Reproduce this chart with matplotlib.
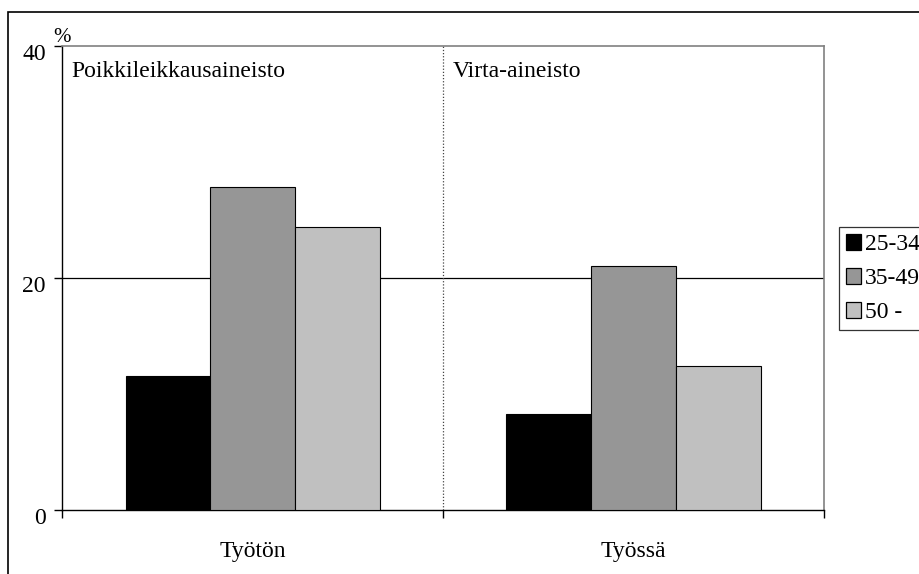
import matplotlib.pyplot as plt
from matplotlib.patches import Rectangle, Patch
from matplotlib.transforms import ScaledTranslation
import numpy as np

plt.rcParams['font.family'] = ['Liberation Serif', 'DejaVu Serif']

categories = ['Työtön', 'Työssä']
age_groups = ['25-34', '35-49', '50 -']
values = {
    '25-34': [11.5, 8.2],
    '35-49': [27.8, 21.0],
    '50 -': [24.4, 12.4],
}
colors = ['#000000', '#969696', '#c0c0c0']
panel_titles = ['Poikkileikkausaineisto', 'Virta-aineisto']

fs = 17

fig = plt.figure(figsize=(9.2, 5.74), dpi=100)
ax = fig.add_axes([62.5 / 920, 64.5 / 574, 761.5 / 920, 463.5 / 574])

x = np.arange(len(categories))
w = 0.223
for i, grp in enumerate(age_groups):
    ax.bar(x + (i - 1) * w, values[grp], width=w, color=colors[i],
           edgecolor='black', linewidth=0.8, zorder=3)

ax.set_xlim(-0.5, 1.5)
ax.set_ylim(0, 40)
ax.set_yticks([0, 20, 40])
ax.set_xticks(x)
ax.set_xticklabels(categories)
ax.set_xticks([-0.5, 0.5, 1.5], minor=True)
ax.tick_params(axis='x', which='major', length=0, pad=23, labelsize=fs)
ax.tick_params(axis='x', which='minor', length=6, direction='out', width=1)
ax.tick_params(axis='y', length=6, direction='out', width=1, labelsize=fs, pad=6)
# y labels sit a bit below their ticks in the original
shift = ScaledTranslation(0, -0.06, fig.dpi_scale_trans)
for lab in ax.get_yticklabels():
    lab.set_transform(lab.get_transform() + shift)

ax.axhline(20, color='black', linewidth=0.9, zorder=1)
ax.axvline(0.5, color='#444444', linewidth=0.9, linestyle=(0, (1, 1.5)), zorder=1)

for s in ['left', 'bottom']:
    ax.spines[s].set_color('black')
    ax.spines[s].set_linewidth(1)
for s in ['top', 'right']:
    ax.spines[s].set_color('#808080')
    ax.spines[s].set_linewidth(1.2)

ax.text(-0.477, 38.7, panel_titles[0], fontsize=fs, va='top', ha='left')
ax.text(0.524, 38.7, panel_titles[1], fontsize=fs, va='top', ha='left')
ax.text(0.0, 0.997, '%', transform=ax.transAxes, fontsize=15, ha='center', va='bottom')

handles = [Patch(facecolor=c, edgecolor='black', linewidth=0.9) for c in colors]
leg = fig.legend(handles, age_groups, loc='upper left',
                 bbox_to_anchor=(839 / 920, 1 - 227 / 574), fontsize=fs,
                 frameon=True, fancybox=False, edgecolor='black',
                 handlelength=0.64, handleheight=0.64, handletextpad=0.17,
                 labelspacing=0.55, borderpad=0.3, borderaxespad=0)
leg.get_frame().set_linewidth(0.9)

fig.patches.append(Rectangle((8 / 920, -0.1), 1.0, 1 - 12 / 574 + 0.1,
                             transform=fig.transFigure, fill=False,
                             edgecolor='black', linewidth=1.2))

fig.savefig('out.png', dpi=100)
